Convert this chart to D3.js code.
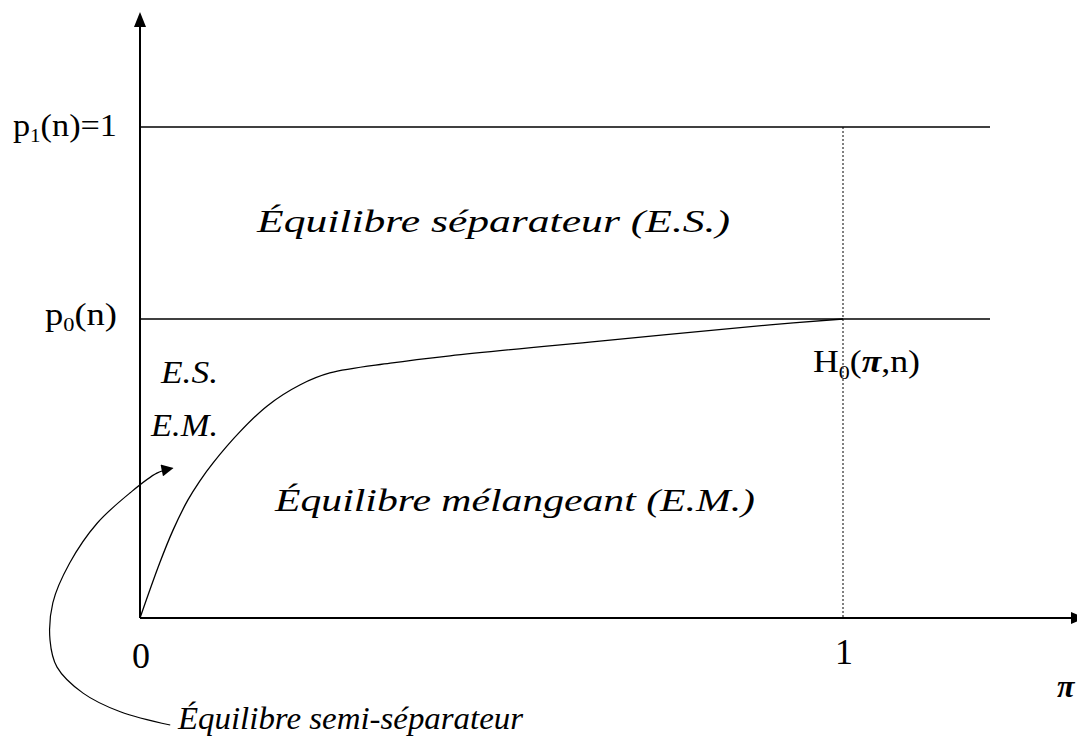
<!DOCTYPE html>
<html lang="fr">
<head>
<meta charset="utf-8">
<title>Équilibres</title>
<script src="https://cdn.jsdelivr.net/npm/d3@7"></script>
<style>
  body { margin: 0; background: #fff; }
</style>
</head>
<body>
<script>
var w = 1077, h = 742;
var serif = "Liberation Serif";

// threshold levels on the vertical axis
var levelNames = ["p1", "p0"];
var levelValues = [1, 0.609];

// frontier curve H0(pi, n), from the origin to pi = 1
var piVals = [0, 0.028, 0.047, 0.068, 0.085, 0.104, 0.142, 0.181, 0.228, 0.270, 0.356, 0.441, 0.654, 0.896, 1];
var hVals  = [0, 0.112, 0.179, 0.240, 0.279, 0.316, 0.379, 0.432, 0.475, 0.499, 0.519, 0.534, 0.564, 0.597, 0.609];

// leader for the "semi-séparateur" note (same units as the chart)
var noteX = [0.043, -0.028, -0.081, -0.118, -0.128, -0.124, -0.100, -0.061, -0.014, 0.024, 0.046];
var noteY = [-0.218, -0.191, -0.153, -0.100, -0.045, 0.031, 0.112, 0.193, 0.255, 0.295, 0.305];

var xTicks = [0, 1];

var x = d3.scaleLinear().domain([0, 1]).range([140, 843]);
var y = d3.scaleLinear().domain([0, 1]).range([618, 127]);

var svg = d3.select("body").append("svg")
    .attr("width", w)
    .attr("height", h)
    .attr("font-family", serif);

var defs = svg.append("defs");
defs.append("marker")
    .attr("id", "head")
    .attr("viewBox", "0 0 10 10")
    .attr("refX", 9).attr("refY", 5)
    .attr("markerWidth", 14).attr("markerHeight", 12)
    .attr("markerUnits", "userSpaceOnUse")
    .attr("orient", "auto")
  .append("path")
    .attr("d", "M0,0 L10,5 L0,10 Z")
    .attr("fill", "#000");

// axes
svg.append("line")
    .attr("x1", x(0)).attr("y1", y(0))
    .attr("x2", x(0)).attr("y2", 26)
    .attr("stroke", "#000").attr("stroke-width", 2);
svg.append("path")
    .attr("d", "M" + x(0) + ",12 L" + (x(0) - 6) + ",27 L" + (x(0) + 6) + ",27 Z")
    .attr("fill", "#000");

svg.append("line")
    .attr("x1", x(0)).attr("y1", y(0))
    .attr("x2", 1072).attr("y2", y(0))
    .attr("stroke", "#000").attr("stroke-width", 2);
svg.append("path")
    .attr("d", "M1086," + y(0) + " L1071," + (y(0) - 6) + " L1071," + (y(0) + 6) + " Z")
    .attr("fill", "#000");

// horizontal levels
svg.selectAll("line.level")
    .data(levelValues)
    .enter()
    .append("line")
    .attr("class", "level")
    .attr("x1", x(0)).attr("x2", 990)
    .attr("y1", function(d) { return y(d); })
    .attr("y2", function(d) { return y(d); })
    .attr("stroke", "#000").attr("stroke-width", 1.6);

// dotted line at pi = 1
svg.append("line")
    .attr("x1", x(1)).attr("x2", x(1))
    .attr("y1", y(levelValues[0])).attr("y2", y(0))
    .attr("stroke", "#000").attr("stroke-width", 1)
    .attr("stroke-dasharray", "2,2");

// frontier curve
var pts = piVals.map(function(d, i) { return [x(d), y(hVals[i])]; });
svg.append("path")
    .attr("d", d3.line().curve(d3.curveCatmullRom.alpha(0.5))(pts))
    .attr("fill", "none")
    .attr("stroke", "#000").attr("stroke-width", 1.3);

// note leader
var notePts = noteX.map(function(d, i) { return [x(d), y(noteY[i])]; });
svg.append("path")
    .attr("d", d3.line().curve(d3.curveCatmullRom.alpha(0.5))(notePts))
    .attr("fill", "none")
    .attr("stroke", "#000").attr("stroke-width", 1.2)
    .attr("marker-end", "url(#head)");

// tick labels
svg.selectAll("text.tick")
    .data(xTicks)
    .enter()
    .append("text")
    .attr("class", "tick")
    .attr("x", function(d) { return x(d) + 1; })
    .attr("y", function(d, i) { return i == 0 ? 668 : 664; })
    .attr("text-anchor", "middle")
    .attr("font-family", serif)
    .attr("font-size", "36px")
    .text(function(d) { return d; });

// level labels with subscripts
var p1 = svg.append("text").attr("x", 13).attr("y", y(levelValues[0]) + 9)
    .attr("font-family", serif)
    .attr("font-size", "31px")
    .attr("textLength", 104).attr("lengthAdjust", "spacingAndGlyphs");
p1.append("tspan").text("p");
p1.append("tspan").attr("font-size", "19px").attr("dy", 6).text("1");
p1.append("tspan").attr("dy", -6).text("(n)=1");

var p0 = svg.append("text").attr("x", 45).attr("y", y(levelValues[1]) + 6)
    .attr("font-family", serif)
    .attr("font-size", "31px")
    .attr("textLength", 72).attr("lengthAdjust", "spacingAndGlyphs");
p0.append("tspan").text("p");
p0.append("tspan").attr("font-size", "19px").attr("dy", 6).text("0");
p0.append("tspan").attr("dy", -6).text("(n)");

var hl = svg.append("text").attr("x", 813).attr("y", 372)
    .attr("font-family", serif)
    .attr("font-size", "31px")
    .attr("textLength", 107).attr("lengthAdjust", "spacingAndGlyphs");
hl.append("tspan").text("H");
hl.append("tspan").attr("font-size", "19px").attr("dy", 7).text("0");
hl.append("tspan").attr("dy", -7).text("(");
hl.append("tspan").attr("font-weight", "bold").attr("font-style", "italic").text("π");
hl.append("tspan").text(",n)");

// region labels
var labels = [
  { t: "Équilibre séparateur (E.S.)", x: 257, y: 232, len: 473 },
  { t: "E.S.", x: 161, y: 383, len: 57 },
  { t: "E.M.", x: 151, y: 436, len: 67 },
  { t: "Équilibre mélangeant (E.M.)", x: 275, y: 511, len: 480 },
  { t: "Équilibre semi-séparateur", x: 178, y: 729, len: 345 }
];
svg.selectAll("text.lab")
    .data(labels)
    .enter()
    .append("text")
    .attr("class", "lab")
    .attr("x", function(d) { return d.x; })
    .attr("y", function(d) { return d.y; })
    .attr("font-family", serif)
    .attr("font-size", "32px")
    .attr("font-style", "italic")
    .attr("textLength", function(d) { return d.len; })
    .attr("lengthAdjust", "spacingAndGlyphs")
    .text(function(d) { return d.t; });

svg.append("text")
    .attr("x", 1057).attr("y", 697)
    .attr("font-family", serif)
    .attr("font-size", "32px")
    .attr("font-style", "italic")
    .attr("font-weight", "bold")
    .text("π");
</script>
</body>
</html>
